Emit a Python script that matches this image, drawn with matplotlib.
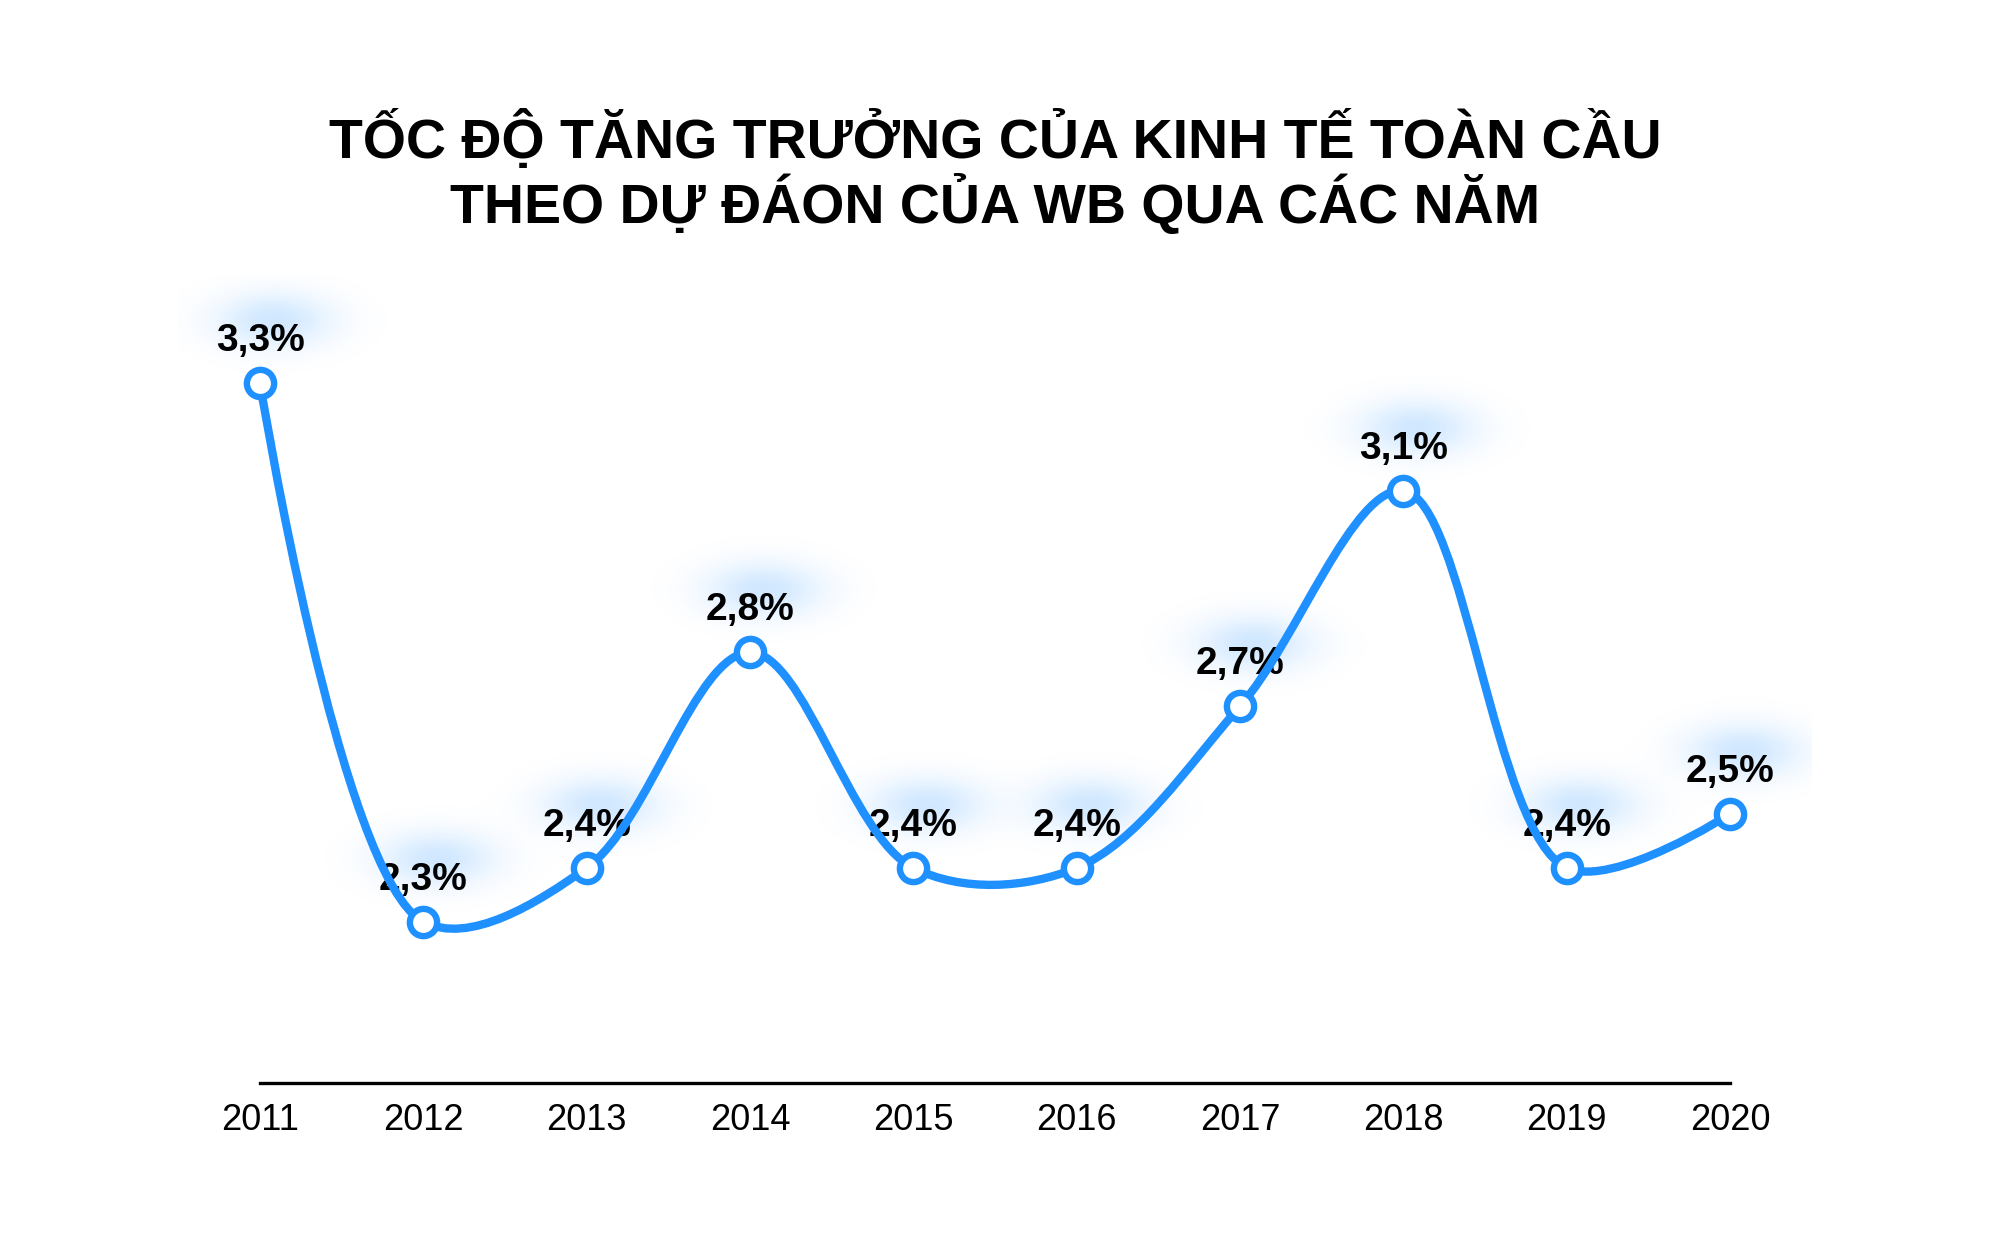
import numpy as np
import matplotlib
matplotlib.use("Agg")
import matplotlib.pyplot as plt
from matplotlib.path import Path
from matplotlib.patches import PathPatch

# data
years = [2011, 2012, 2013, 2014, 2015, 2016, 2017, 2018, 2019, 2020]
growth = [3.3, 2.3, 2.4, 2.8, 2.4, 2.4, 2.7, 3.1, 2.4, 2.5]
labels = ["3,3%", "2,3%", "2,4%", "2,8%", "2,4%", "2,4%", "2,7%", "3,1%", "2,4%", "2,5%"]
title1 = "TỐC ĐỘ TĂNG TRƯỞNG CỦA KINH TẾ TOÀN CẦU"
title2 = "THEO DỰ ĐÁON CỦA WB QUA CÁC NĂM"

BLUE = "#1E90FF"
plt.rcParams['font.family'] = ['Liberation Sans', 'DejaVu Sans']

fig = plt.figure(figsize=(10, 6.17), dpi=200)
ax = fig.add_axes([0.08918, 0.12204, 0.81665, 0.6549])
ax.set_xlim(2010.5, 2020.5)
ax.set_ylim(2.0, 3.5)

# pixels per data unit, for the centripetal catmull-rom and the glows
p0 = ax.transData.transform((2011, 2.0))
p1 = ax.transData.transform((2012, 3.0))
sx = p1[0] - p0[0]
sy = p1[1] - p0[1]


def catmull_rom(xs, ys, alpha=0.5):
    P = np.column_stack([np.asarray(xs, float) * sx, np.asarray(ys, float) * sy])
    n = len(P)
    verts = [P[0]]
    codes = [Path.MOVETO]
    for i in range(n - 1):
        a0 = P[i - 1] if i > 0 else P[i]
        a1 = P[i]
        a2 = P[i + 1]
        a3 = P[i + 2] if i + 2 < n else P[i + 1]
        d01 = np.hypot(*(a1 - a0))
        d12 = np.hypot(*(a2 - a1))
        d23 = np.hypot(*(a3 - a2))
        l01a, l01_2a = d01 ** alpha, d01 ** (2 * alpha)
        l12a, l12_2a = d12 ** alpha, d12 ** (2 * alpha)
        l23a, l23_2a = d23 ** alpha, d23 ** (2 * alpha)
        c1 = a1.copy()
        if l01a > 1e-9:
            a = 2 * l01_2a + 3 * l01a * l12a + l12_2a
            m = 3 * l01a * (l01a + l12a)
            c1 = (a1 * a - a0 * l12_2a + a2 * l01_2a) / m
        c2 = a2.copy()
        if l23a > 1e-9:
            b = 2 * l23_2a + 3 * l23a * l12a + l12_2a
            m = 3 * l23a * (l23a + l12a)
            c2 = (a2 * b + a1 * l23_2a - a3 * l12_2a) / m
        verts += [c1, c2, a2]
        codes += [Path.CURVE4] * 3
    verts = np.array(verts) / [sx, sy]
    return Path(verts, codes)


# soft blue glow behind each label
W, H = 1633, 808
gx = np.linspace(2010.5, 2020.5, W)
gy = np.linspace(2.0, 3.5, H)
GX, GY = np.meshgrid(gx, gy)
alpha_map = np.zeros((H, W))
for x, v in zip(years, growth):
    cx = x + 14 / sx
    cy = v + 62 / sy
    alpha_map += np.exp(-(((GX - cx) * sx / 40) ** 2 + ((GY - cy) * sy / 19) ** 2) / 2)
alpha_map = np.clip(alpha_map, 0, 1) * 0.21
img = np.zeros((H, W, 4))
img[..., 0] = 30 / 255
img[..., 1] = 144 / 255
img[..., 2] = 1.0
img[..., 3] = alpha_map
ax.imshow(img, extent=(2010.5, 2020.5, 2.0, 3.5), origin='lower', aspect='auto',
          interpolation='bilinear', zorder=0.5)
ax.set_xlim(2010.5, 2020.5)
ax.set_ylim(2.0, 3.5)

for x, v, t in zip(years, growth, labels):
    ax.annotate(t, (x, v), xytext=(0, 11.5), textcoords='offset points',
                ha='center', va='baseline', fontsize=14, fontweight='bold',
                color='black', zorder=2)

ax.add_patch(PathPatch(catmull_rom(years, growth), facecolor='none', edgecolor=BLUE,
                       lw=3, capstyle='round', joinstyle='round', zorder=3, clip_on=False))
ax.plot(years, growth, 'o', ms=9.8, mfc='white', mec=BLUE, mew=2.3, zorder=4, clip_on=False)

for s in ['left', 'right', 'top']:
    ax.spines[s].set_visible(False)
ax.spines['bottom'].set_bounds(2011, 2020)
ax.spines['bottom'].set_linewidth(1.2)
ax.spines['bottom'].set_color('black')
ax.set_yticks([])
ax.set_xticks(years)
ax.set_xticklabels([str(y) for y in years])
ax.tick_params(axis='x', length=0, pad=7, labelsize=13, labelcolor='black')

fig.text(0.4975, 1 - 140 / 1234, title1, ha='center', va='center', fontsize=20,
         fontweight='bold', color='black')
fig.text(0.4975, 1 - 204 / 1234, title2, ha='center', va='center', fontsize=20,
         fontweight='bold', color='black')

fig.savefig("out.png", dpi=200, facecolor='white')
